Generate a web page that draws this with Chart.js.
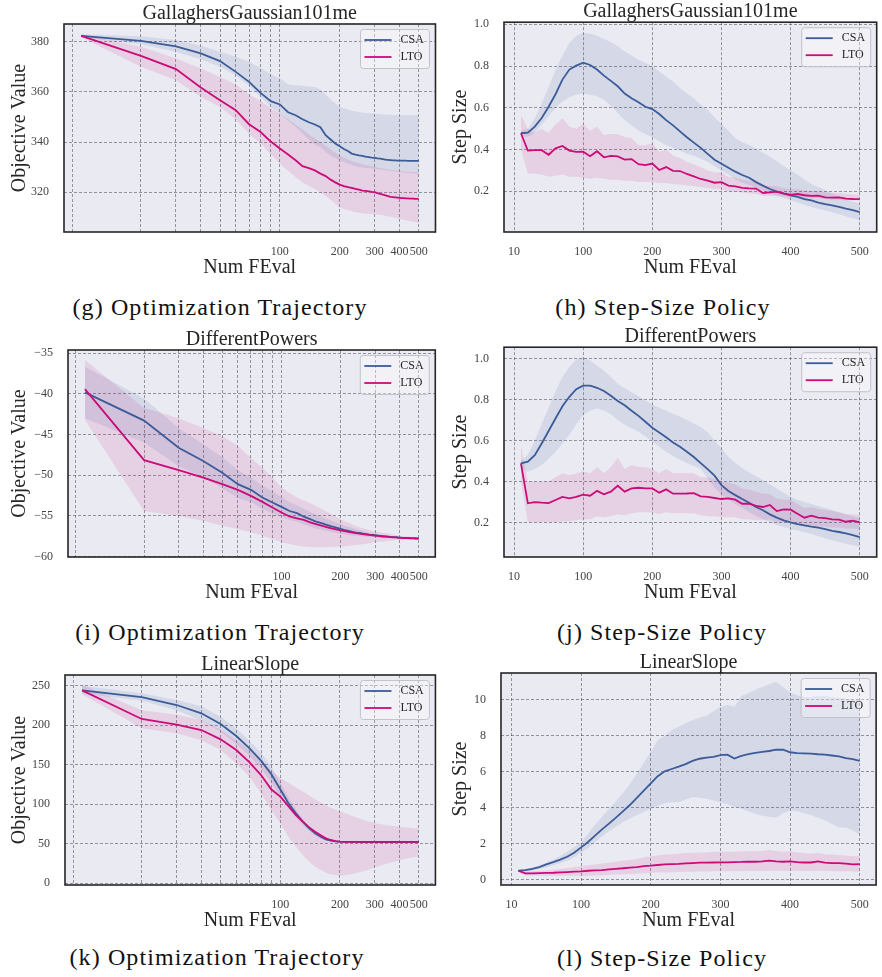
<!DOCTYPE html>
<html>
<head>
<meta charset="utf-8">
<script src="https://cdn.jsdelivr.net/npm/chart.js@4.4.1/dist/chart.umd.min.js"></script>
<style>
  body { margin: 0; background: #fff; }
  #page { position: relative; width: 882px; height: 977px; overflow: hidden; }
  #page canvas { position: absolute; }
  .cap {
    position: absolute;
    font-family: 'Liberation Serif', 'Times New Roman', serif;
    font-size: 24px;
    letter-spacing: 1.1px;
    color: #111;
    white-space: nowrap;
    transform: translate(-50%, -50%);
  }
</style>
</head>
<body>
<div id="page">
  <canvas id="g" width="441" height="280" style="left:0;top:0"></canvas>
  <canvas id="h" width="441" height="280" style="left:441px;top:0"></canvas>
  <canvas id="i" width="441" height="280" style="left:0;top:325px"></canvas>
  <canvas id="j" width="441" height="280" style="left:441px;top:325px"></canvas>
  <canvas id="k" width="441" height="283" style="left:0;top:650px"></canvas>
  <canvas id="l" width="441" height="283" style="left:441px;top:650px"></canvas>

  <div class="cap" style="left:220px;top:307px">(g) Optimization Trajectory</div>
  <div class="cap" style="left:663px;top:307px">(h) Step-Size Policy</div>
  <div class="cap" style="left:220px;top:632px">(i) Optimization Trajectory</div>
  <div class="cap" style="left:662px;top:632px">(j) Step-Size Policy</div>
  <div class="cap" style="left:217px;top:957px">(k) Optimization Trajectory</div>
  <div class="cap" style="left:662px;top:958px">(l) Step-Size Policy</div>
</div>

<script>
// number of function evaluations at which each run was logged
var FEVALS = [10, 20, 30, 40, 50, 60, 70, 80, 90, 100,
              110, 120, 130, 140, 150, 160, 170, 180, 190, 200,
              210, 220, 230, 240, 250, 260, 270, 280, 290, 300,
              310, 320, 330, 340, 350, 360, 370, 380, 390, 400,
              410, 420, 430, 440, 450, 460, 470, 480, 490, 500];

// x gridlines / labels
var LOG_GRID = [9, 20, 30, 40, 50, 60, 70, 80, 90, 100, 200, 300, 400, 500];
var LOG_LABELED = [100, 200, 300, 400, 500];
var LIN_GRID = [0, 100, 200, 300, 400, 500];
var LIN_LABELS = ['10', '100', '200', '300', '400', '500'];

// --- GallaghersGaussian101me: objective value
var gCsaMean = [382.4, 380.4, 378.2, 375.4, 372.3, 368.0, 364.0, 359.6, 356.3, 355.0,
                351.9, 350.7, 349.1, 347.9, 347.0, 345.9, 342.7, 341.0, 339.4, 338.3,
                337.2, 336.4, 335.4, 335.0, 334.7, 334.5, 334.2, 334.0, 333.8, 333.7,
                333.5, 333.4, 333.2, 333.0, 332.9, 332.8, 332.7, 332.7, 332.6, 332.6,
                332.6, 332.6, 332.6, 332.5, 332.5, 332.5, 332.5, 332.5, 332.5, 332.5];
var gCsaHigh = [383.0, 382.2, 380.7, 378.5, 376.0, 374.0, 372.0, 369.5, 367.0, 365.5,
                363.0, 362.7, 362.5, 362.2, 362.0, 361.0, 359.0, 357.0, 355.5, 354.0,
                353.5, 353.0, 352.5, 352.2, 352.0, 351.8, 351.6, 351.5, 351.4, 351.3,
                351.2, 351.1, 351.0, 351.0, 350.9, 350.9, 350.8, 350.8, 350.8, 350.7,
                350.7, 350.7, 350.7, 350.7, 350.7, 350.7, 350.7, 350.7, 350.7, 350.7];
var gCsaLow = [381.8, 379.0, 376.0, 373.0, 370.0, 366.5, 362.5, 358.0, 354.0, 351.3,
               348.5, 346.0, 343.5, 341.0, 339.0, 338.0, 336.0, 334.5, 333.5, 332.7,
               332.0, 331.3, 330.8, 330.3, 330.0, 329.8, 329.6, 329.5, 329.4, 329.3,
               329.1, 329.0, 328.8, 328.7, 328.5, 328.4, 328.3, 328.2, 328.1, 328.0,
               327.9, 327.8, 327.7, 327.6, 327.6, 327.5, 327.5, 327.4, 327.4, 327.4];
var gLtoMean = [382.4, 374.4, 369.1, 361.8, 356.7, 352.7, 347.1, 344.0, 340.2, 337.4,
                335.0, 332.7, 330.4, 329.6, 328.7, 327.4, 326.4, 325.0, 323.9, 323.0,
                322.4, 322.0, 321.7, 321.3, 321.0, 320.6, 320.5, 320.3, 320.1, 320.0,
                319.6, 319.3, 319.0, 318.7, 318.4, 318.1, 318.0, 317.9, 317.8, 317.7,
                317.6, 317.6, 317.5, 317.5, 317.4, 317.4, 317.4, 317.3, 317.3, 317.3];
var gLtoHigh = [383.0, 378.0, 373.3, 369.3, 366.0, 363.0, 359.0, 356.5, 353.5, 351.3,
                349.0, 347.0, 345.0, 343.0, 341.5, 340.0, 338.5, 337.0, 335.8, 334.7,
                333.8, 333.0, 332.4, 331.9, 331.5, 331.1, 330.8, 330.5, 330.2, 330.0,
                329.8, 329.6, 329.4, 329.2, 329.0, 328.8, 328.7, 328.6, 328.5, 328.4,
                328.3, 328.2, 328.2, 328.1, 328.1, 328.0, 328.0, 328.0, 328.0, 328.0];
var gLtoLow = [381.8, 370.0, 364.7, 358.0, 354.0, 349.0, 343.3, 339.5, 335.0, 331.3,
               328.5, 326.0, 324.0, 322.5, 321.3, 320.0, 318.5, 317.0, 315.5, 314.0,
               313.3, 312.8, 312.4, 312.0, 311.8, 311.6, 311.5, 311.4, 311.3, 311.3,
               311.1, 311.0, 310.8, 310.6, 310.4, 310.2, 310.0, 309.8, 309.6, 309.4,
               309.2, 309.0, 308.8, 308.7, 308.5, 308.3, 308.2, 308.1, 308.0, 307.8];
var gTicks = [320, 340, 360, 380];

// --- GallaghersGaussian101me: step size
var hCsaMean = [0.478, 0.481, 0.510, 0.551, 0.605, 0.665, 0.735, 0.783, 0.802, 0.816,
                0.805, 0.783, 0.754, 0.729, 0.703, 0.668, 0.646, 0.627, 0.605, 0.594,
                0.570, 0.541, 0.516, 0.487, 0.459, 0.433, 0.408, 0.379, 0.351, 0.332,
                0.313, 0.294, 0.278, 0.265, 0.244, 0.227, 0.211, 0.198, 0.189, 0.181,
                0.173, 0.163, 0.156, 0.146, 0.138, 0.132, 0.125, 0.117, 0.110, 0.100];
var hCsaHigh = [0.490, 0.500, 0.550, 0.620, 0.700, 0.780, 0.850, 0.910, 0.945, 0.960,
                0.955, 0.945, 0.930, 0.915, 0.895, 0.870, 0.850, 0.830, 0.815, 0.800,
                0.775, 0.750, 0.725, 0.695, 0.670, 0.645, 0.615, 0.590, 0.555, 0.522,
                0.490, 0.455, 0.435, 0.420, 0.405, 0.385, 0.365, 0.345, 0.320, 0.300,
                0.280, 0.255, 0.235, 0.220, 0.205, 0.190, 0.175, 0.160, 0.150, 0.141];
var hCsaLow = [0.467, 0.460, 0.480, 0.520, 0.560, 0.600, 0.630, 0.650, 0.662, 0.668,
               0.663, 0.655, 0.638, 0.610, 0.575, 0.540, 0.515, 0.490, 0.475, 0.459,
               0.440, 0.420, 0.408, 0.395, 0.380, 0.370, 0.356, 0.342, 0.320, 0.300,
               0.280, 0.258, 0.242, 0.230, 0.218, 0.205, 0.190, 0.178, 0.168, 0.157,
               0.146, 0.135, 0.125, 0.116, 0.108, 0.100, 0.090, 0.080, 0.070, 0.062];
var hLtoMean = [0.478, 0.395, 0.397, 0.397, 0.375, 0.406, 0.417, 0.395, 0.389, 0.390,
                0.368, 0.392, 0.363, 0.370, 0.367, 0.352, 0.354, 0.330, 0.325, 0.333,
                0.302, 0.316, 0.298, 0.297, 0.283, 0.271, 0.259, 0.251, 0.241, 0.244,
                0.227, 0.224, 0.216, 0.214, 0.213, 0.192, 0.195, 0.198, 0.190, 0.183,
                0.187, 0.181, 0.178, 0.179, 0.171, 0.170, 0.171, 0.165, 0.163, 0.162];
var hLtoHigh = [0.565, 0.500, 0.480, 0.500, 0.480, 0.520, 0.550, 0.510, 0.500, 0.525,
                0.490, 0.510, 0.470, 0.475, 0.475, 0.460, 0.455, 0.420, 0.420, 0.430,
                0.390, 0.400, 0.370, 0.360, 0.340, 0.330, 0.315, 0.300, 0.290, 0.290,
                0.270, 0.265, 0.255, 0.250, 0.250, 0.225, 0.225, 0.225, 0.215, 0.210,
                0.210, 0.205, 0.200, 0.200, 0.195, 0.193, 0.192, 0.188, 0.185, 0.183];
var hLtoLow = [0.400, 0.285, 0.285, 0.280, 0.270, 0.275, 0.280, 0.270, 0.270, 0.265,
               0.260, 0.265, 0.260, 0.255, 0.255, 0.250, 0.250, 0.245, 0.245, 0.245,
               0.240, 0.240, 0.235, 0.232, 0.228, 0.225, 0.220, 0.215, 0.212, 0.210,
               0.200, 0.198, 0.194, 0.190, 0.188, 0.178, 0.178, 0.180, 0.175, 0.172,
               0.172, 0.168, 0.167, 0.167, 0.162, 0.160, 0.160, 0.157, 0.156, 0.155];
var hTicks = [0.2, 0.4, 0.6, 0.8, 1.0];

// --- DifferentPowers: objective value
var iCsaMean = [-39.84, -43.30, -46.64, -48.27, -49.70, -51.10, -51.80, -52.75, -53.36, -53.90,
                -54.40, -54.66, -55.10, -55.40, -55.70, -55.90, -56.10, -56.30, -56.45, -56.60,
                -56.75, -56.85, -56.95, -57.05, -57.10, -57.18, -57.24, -57.30, -57.34, -57.38,
                -57.42, -57.46, -57.50, -57.52, -57.55, -57.58, -57.60, -57.62, -57.64, -57.66,
                -57.68, -57.69, -57.70, -57.71, -57.72, -57.73, -57.74, -57.75, -57.76, -57.77];
var iCsaHigh = [-36.70, -40.60, -44.20, -46.20, -47.80, -49.40, -50.30, -51.30, -52.00, -52.70,
                -53.30, -53.70, -54.15, -54.50, -54.85, -55.10, -55.35, -55.60, -55.80, -56.00,
                -56.20, -56.35, -56.50, -56.65, -56.75, -56.87, -56.97, -57.06, -57.13, -57.20,
                -57.26, -57.32, -57.38, -57.42, -57.46, -57.50, -57.53, -57.56, -57.58, -57.60,
                -57.62, -57.63, -57.64, -57.65, -57.66, -57.67, -57.68, -57.68, -57.69, -57.70];
var iCsaLow = [-43.00, -46.00, -48.90, -50.30, -51.60, -52.80, -53.30, -54.15, -54.70, -55.10,
               -55.50, -55.70, -56.05, -56.30, -56.55, -56.70, -56.85, -57.00, -57.10, -57.20,
               -57.30, -57.35, -57.40, -57.45, -57.48, -57.52, -57.55, -57.58, -57.60, -57.62,
               -57.64, -57.66, -57.68, -57.70, -57.72, -57.74, -57.75, -57.76, -57.77, -57.78,
               -57.79, -57.80, -57.80, -57.81, -57.81, -57.82, -57.82, -57.83, -57.83, -57.84];
var iLtoMean = [-39.43, -48.15, -49.37, -50.30, -51.10, -51.80, -52.55, -53.28, -53.97, -54.58,
                -55.07, -55.30, -55.50, -55.80, -56.00, -56.20, -56.37, -56.54, -56.66, -56.78,
                -56.88, -56.97, -57.05, -57.12, -57.18, -57.24, -57.29, -57.34, -57.38, -57.42,
                -57.46, -57.50, -57.53, -57.56, -57.59, -57.61, -57.63, -57.65, -57.67, -57.69,
                -57.71, -57.72, -57.73, -57.74, -57.75, -57.76, -57.77, -57.78, -57.79, -57.80];
var iLtoHigh = [-35.85, -41.75, -43.00, -44.20, -45.20, -46.40, -47.90, -49.10, -50.30, -51.50,
                -52.20, -52.75, -53.10, -53.45, -53.80, -54.15, -54.50, -54.80, -55.10, -55.40,
                -55.65, -55.85, -56.05, -56.25, -56.40, -56.52, -56.62, -56.72, -56.82, -56.90,
                -56.97, -57.03, -57.09, -57.15, -57.20, -57.25, -57.30, -57.35, -57.39, -57.43,
                -57.46, -57.49, -57.51, -57.53, -57.55, -57.57, -57.59, -57.61, -57.63, -57.64];
var iLtoLow = [-43.20, -54.40, -55.00, -55.60, -56.20, -56.60, -57.00, -57.43, -57.84, -58.25,
               -58.45, -58.65, -58.75, -58.82, -58.86, -58.86, -58.85, -58.83, -58.80, -58.78,
               -58.73, -58.68, -58.63, -58.58, -58.53, -58.48, -58.42, -58.36, -58.30, -58.25,
               -58.21, -58.18, -58.15, -58.12, -58.09, -58.06, -58.03, -58.00, -57.98, -57.96,
               -57.95, -57.95, -57.94, -57.94, -57.93, -57.93, -57.93, -57.92, -57.92, -57.92];
var iTicks = [-60, -55, -50, -45, -40, -35];

// --- DifferentPowers: step size
var jCsaMean = [0.488, 0.496, 0.528, 0.585, 0.646, 0.707, 0.767, 0.813, 0.850, 0.867,
                0.867, 0.857, 0.841, 0.818, 0.792, 0.772, 0.745, 0.720, 0.691, 0.662,
                0.639, 0.615, 0.590, 0.569, 0.545, 0.519, 0.489, 0.460, 0.428, 0.382,
                0.353, 0.333, 0.314, 0.296, 0.275, 0.259, 0.239, 0.223, 0.210, 0.200,
                0.192, 0.185, 0.179, 0.174, 0.167, 0.159, 0.153, 0.146, 0.138, 0.128];
var jCsaHigh = [0.500, 0.530, 0.600, 0.680, 0.760, 0.840, 0.910, 0.960, 0.995, 1.008,
                0.990, 0.965, 0.940, 0.910, 0.875, 0.855, 0.835, 0.815, 0.795, 0.775,
                0.760, 0.745, 0.730, 0.715, 0.700, 0.682, 0.665, 0.640, 0.600, 0.560,
                0.520, 0.490, 0.465, 0.445, 0.425, 0.405, 0.385, 0.365, 0.345, 0.325,
                0.310, 0.300, 0.290, 0.280, 0.270, 0.260, 0.250, 0.240, 0.230, 0.220];
var jCsaLow = [0.463, 0.447, 0.460, 0.480, 0.510, 0.545, 0.585, 0.626, 0.680, 0.724,
               0.745, 0.756, 0.745, 0.728, 0.700, 0.677, 0.660, 0.642, 0.620, 0.593,
               0.570, 0.545, 0.524, 0.505, 0.490, 0.475, 0.460, 0.415, 0.370, 0.335,
               0.310, 0.290, 0.270, 0.250, 0.232, 0.215, 0.200, 0.187, 0.177, 0.168,
               0.160, 0.152, 0.143, 0.132, 0.122, 0.113, 0.104, 0.096, 0.088, 0.081];
var jLtoMean = [0.488, 0.293, 0.299, 0.296, 0.294, 0.309, 0.324, 0.317, 0.324, 0.335,
                0.330, 0.354, 0.337, 0.350, 0.379, 0.350, 0.366, 0.369, 0.366, 0.366,
                0.345, 0.361, 0.340, 0.340, 0.341, 0.343, 0.327, 0.324, 0.319, 0.314,
                0.317, 0.311, 0.291, 0.291, 0.281, 0.275, 0.285, 0.255, 0.263, 0.262,
                0.242, 0.223, 0.233, 0.223, 0.221, 0.215, 0.213, 0.203, 0.208, 0.200];
var jLtoHigh = [0.574, 0.400, 0.400, 0.400, 0.400, 0.420, 0.440, 0.430, 0.440, 0.450,
                0.440, 0.470, 0.440, 0.470, 0.515, 0.460, 0.480, 0.470, 0.470, 0.460,
                0.440, 0.460, 0.440, 0.440, 0.440, 0.440, 0.420, 0.420, 0.410, 0.400,
                0.395, 0.385, 0.365, 0.360, 0.350, 0.340, 0.340, 0.315, 0.310, 0.310,
                0.290, 0.270, 0.275, 0.265, 0.260, 0.255, 0.250, 0.240, 0.240, 0.235];
var jLtoLow = [0.400, 0.200, 0.200, 0.200, 0.200, 0.200, 0.205, 0.205, 0.210, 0.215,
               0.215, 0.230, 0.225, 0.230, 0.240, 0.235, 0.245, 0.250, 0.250, 0.250,
               0.240, 0.250, 0.245, 0.245, 0.245, 0.245, 0.235, 0.230, 0.230, 0.225,
               0.225, 0.225, 0.215, 0.215, 0.210, 0.210, 0.215, 0.200, 0.200, 0.200,
               0.190, 0.180, 0.185, 0.180, 0.180, 0.175, 0.175, 0.170, 0.170, 0.165];
var jTicks = [0.2, 0.4, 0.6, 0.8, 1.0];

// --- LinearSlope: objective value
var kCsaMean = [244.0, 235.6, 225.5, 215.0, 201.4, 186.2, 170.6, 155.0, 138.0, 118.7,
                101.0, 88.3, 77.7, 69.3, 63.0, 58.7, 55.3, 53.6, 52.8, 52.4,
                52.2, 52.1, 52.0, 52.0, 51.9, 51.9, 51.9, 51.9, 51.9, 51.9,
                51.9, 51.9, 51.9, 51.9, 51.9, 51.9, 51.9, 51.9, 51.9, 51.9,
                51.9, 51.9, 51.9, 51.9, 51.9, 51.9, 51.9, 51.9, 51.9, 51.9];
var kCsaHigh = [250.0, 240.3, 231.8, 224.0, 210.7, 196.0, 180.0, 165.0, 148.0, 128.0,
                108.0, 93.0, 81.0, 72.0, 65.0, 60.0, 56.5, 54.5, 53.5, 53.0,
                52.6, 52.4, 52.3, 52.2, 52.2, 52.1, 52.1, 52.1, 52.1, 52.1,
                52.1, 52.1, 52.1, 52.1, 52.1, 52.1, 52.1, 52.1, 52.1, 52.1,
                52.1, 52.1, 52.1, 52.1, 52.1, 52.1, 52.1, 52.1, 52.1, 52.1];
var kCsaLow = [240.0, 231.0, 219.0, 206.0, 192.0, 176.0, 161.0, 145.0, 128.0, 109.0,
               94.0, 83.0, 73.0, 66.0, 60.0, 56.0, 53.5, 52.5, 52.0, 51.8,
               51.7, 51.7, 51.7, 51.7, 51.7, 51.7, 51.7, 51.7, 51.7, 51.7,
               51.7, 51.7, 51.7, 51.7, 51.7, 51.7, 51.7, 51.7, 51.7, 51.7,
               51.7, 51.7, 51.7, 51.7, 51.7, 51.7, 51.7, 51.7, 51.7, 51.7];
var kLtoMean = [244.0, 207.8, 200.6, 193.8, 182.0, 168.5, 152.9, 136.8, 118.7, 109.4,
                97.5, 86.1, 77.7, 70.5, 65.0, 60.4, 56.6, 54.5, 53.2, 52.4,
                52.1, 52.0, 52.0, 52.0, 52.0, 52.0, 52.0, 52.0, 52.0, 52.0,
                52.0, 52.0, 52.0, 52.0, 52.0, 52.0, 52.0, 52.0, 52.0, 52.0,
                52.0, 52.0, 52.0, 52.0, 52.0, 52.0, 52.0, 52.0, 52.0, 52.0];
var kLtoHigh = [251.0, 219.0, 213.0, 206.5, 194.0, 181.0, 168.5, 156.0, 143.0, 133.0,
                127.0, 121.0, 116.0, 111.0, 106.0, 102.0, 98.5, 95.5, 93.0, 91.0,
                89.0, 87.0, 85.0, 83.5, 82.0, 80.5, 79.0, 78.0, 77.0, 76.0,
                75.2, 74.5, 74.0, 73.5, 73.0, 72.6, 72.2, 71.8, 71.5, 71.2,
                70.9, 70.6, 70.4, 70.2, 70.0, 69.8, 69.6, 69.5, 69.4, 69.3];
var kLtoLow = [239.0, 196.0, 189.6, 181.0, 168.5, 151.6, 134.7, 113.6, 92.5, 75.6,
               58.7, 46.0, 35.5, 27.0, 20.7, 16.5, 13.1, 11.0, 9.7, 9.3,
               9.8, 10.5, 11.5, 12.5, 13.5, 14.5, 15.5, 17.0, 18.5, 20.0,
               21.0, 22.0, 23.0, 24.0, 25.0, 25.8, 26.6, 27.4, 28.2, 29.0,
               29.6, 30.2, 30.8, 31.3, 31.8, 32.3, 32.7, 33.0, 33.3, 33.5];
var kTicks = [0, 50, 100, 150, 200, 250];

// --- LinearSlope: step size
var lCsaMean = [0.50, 0.53, 0.60, 0.70, 0.85, 0.98, 1.12, 1.28, 1.50, 1.80,
                2.10, 2.45, 2.80, 3.12, 3.45, 3.80, 4.15, 4.55, 4.95, 5.35,
                5.75, 6.02, 6.15, 6.28, 6.42, 6.60, 6.72, 6.78, 6.82, 6.92,
                6.95, 6.73, 6.88, 6.98, 7.05, 7.10, 7.15, 7.22, 7.22, 7.08,
                7.03, 7.02, 7.00, 6.97, 6.95, 6.90, 6.85, 6.75, 6.70, 6.60];
var lCsaHigh = [0.55, 0.60, 0.68, 0.80, 0.95, 1.12, 1.32, 1.55, 1.80, 2.10,
                2.55, 3.05, 3.50, 3.95, 4.35, 4.80, 5.30, 5.90, 6.50, 7.10,
                7.75, 8.00, 8.30, 8.50, 8.70, 8.85, 9.00, 9.10, 9.35, 9.60,
                9.70, 9.60, 10.20, 10.35, 10.55, 10.70, 10.85, 11.00, 10.70, 10.40,
                10.25, 10.15, 10.15, 10.20, 10.20, 10.15, 10.10, 10.05, 10.00, 10.00];
var lCsaLow = [0.45, 0.47, 0.52, 0.60, 0.70, 0.80, 0.92, 1.05, 1.25, 1.50,
               1.75, 2.10, 2.40, 2.70, 2.95, 3.20, 3.40, 3.60, 3.78, 3.93,
               4.10, 4.25, 4.30, 4.30, 4.45, 4.58, 4.55, 4.50, 4.40, 4.30,
               4.20, 4.05, 3.95, 3.80, 3.65, 3.55, 3.50, 3.45, 3.70, 3.85,
               3.80, 3.70, 3.60, 3.45, 3.30, 3.10, 2.90, 2.90, 2.75, 2.50];
var lLtoMean = [0.50, 0.36, 0.36, 0.37, 0.38, 0.39, 0.41, 0.43, 0.45, 0.47,
                0.50, 0.52, 0.54, 0.58, 0.61, 0.64, 0.68, 0.70, 0.76, 0.78,
                0.82, 0.85, 0.87, 0.88, 0.91, 0.93, 0.95, 0.95, 0.96, 0.97,
                0.97, 0.98, 0.99, 1.01, 1.00, 1.02, 1.06, 1.02, 1.00, 1.02,
                0.98, 0.96, 0.96, 1.02, 0.95, 0.93, 0.92, 0.90, 0.86, 0.87];
var lLtoHigh = [0.55, 0.45, 0.47, 0.50, 0.52, 0.55, 0.60, 0.65, 0.70, 0.75,
                0.80, 0.85, 0.90, 0.95, 1.00, 1.05, 1.10, 1.15, 1.25, 1.30,
                1.35, 1.40, 1.42, 1.45, 1.48, 1.50, 1.52, 1.52, 1.55, 1.55,
                1.55, 1.56, 1.57, 1.60, 1.58, 1.60, 1.65, 1.60, 1.55, 1.58,
                1.52, 1.48, 1.45, 1.50, 1.42, 1.40, 1.38, 1.35, 1.32, 1.30];
var lLtoLow = [0.45, 0.25, 0.24, 0.23, 0.22, 0.22, 0.22, 0.22, 0.22, 0.22,
               0.23, 0.24, 0.25, 0.27, 0.29, 0.30, 0.32, 0.34, 0.36, 0.38,
               0.40, 0.41, 0.42, 0.43, 0.44, 0.45, 0.46, 0.46, 0.47, 0.47,
               0.48, 0.48, 0.48, 0.49, 0.49, 0.49, 0.50, 0.50, 0.50, 0.50,
               0.50, 0.49, 0.49, 0.50, 0.49, 0.48, 0.48, 0.47, 0.46, 0.45];
var lTicks = [0, 2, 4, 6, 8, 10];

var SERIF = "'Liberation Serif', 'Times New Roman', serif";
var CSA_COLOR = '#3b5b99';
var LTO_COLOR = '#cc0a78';
var CSA_BAND = 'rgba(59, 91, 153, 0.12)';
var LTO_BAND = 'rgba(204, 10, 120, 0.11)';
var GRID_COLOR = 'rgba(40, 40, 50, 0.45)';

function pts(ys) {
    return FEVALS.map(function (x, i) { return { x: x, y: ys[i] }; });
}

// shaded area between two bounds: the upper curve fills down to the one before it
function band(low, high, color, order) {
    return [
        { data: pts(low), borderWidth: 0, borderColor: 'transparent', pointRadius: 0, fill: false, order: order },
        { data: pts(high), borderWidth: 0, borderColor: 'transparent', pointRadius: 0, fill: '-1', backgroundColor: color, order: order }
    ];
}

function meanLine(label, ys, color, order) {
    return { label: label, data: pts(ys), borderColor: color, borderWidth: 1.8, pointRadius: 0, fill: false, order: order };
}

// axes background and the black frame around the plot
var axesFrame = {
    id: 'axesFrame',
    beforeDraw: function (chart) {
        var a = chart.chartArea, ctx = chart.ctx;
        ctx.save();
        ctx.fillStyle = '#eaeaf2';
        ctx.fillRect(a.left, a.top, a.right - a.left, a.bottom - a.top);
        ctx.restore();
    },
    afterDraw: function (chart) {
        var a = chart.chartArea, ctx = chart.ctx;
        ctx.save();
        ctx.strokeStyle = '#262626';
        ctx.lineWidth = 1.6;
        ctx.strokeRect(a.left, a.top, a.right - a.left, a.bottom - a.top);
        ctx.restore();
    }
};

// legend box in the upper right corner of the plot
var cornerLegend = {
    id: 'cornerLegend',
    afterDatasetsDraw: function (chart) {
        var a = chart.chartArea, ctx = chart.ctx;
        var items = chart.data.datasets.filter(function (d) { return d.label; });
        var w = 69, h = 39;
        var x0 = a.right - 6 - w, y0 = a.top + 5.5;
        ctx.save();
        ctx.beginPath();
        ctx.roundRect(x0, y0, w, h, 3);
        ctx.fillStyle = 'rgba(255, 255, 255, 0.35)';
        ctx.fill();
        ctx.strokeStyle = 'rgba(190, 190, 200, 0.9)';
        ctx.lineWidth = 1;
        ctx.stroke();
        ctx.font = '12px ' + SERIF;
        ctx.textBaseline = 'middle';
        items.forEach(function (d, n) {
            var y = y0 + 10.5 + n * 17;
            ctx.beginPath();
            ctx.moveTo(x0 + 4, y);
            ctx.lineTo(x0 + 31, y);
            ctx.strokeStyle = d.borderColor;
            ctx.lineWidth = 1.8;
            ctx.stroke();
            ctx.fillStyle = '#262626';
            ctx.fillText(d.label, x0 + 40, y);
        });
        ctx.restore();
    }
};

function tickFont() { return { family: SERIF, size: 12 }; }
function axisTitleFont() { return { family: SERIF, size: 20, lineHeight: 1.2 }; }

function xLogScale() {
    return {
        type: 'logarithmic',
        min: 8.2,
        max: 607,
        afterBuildTicks: function (s) { s.ticks = LOG_GRID.map(function (v) { return { value: v }; }); },
        afterFit: function (s) { s.height = 48; },
        ticks: {
            autoSkip: false, maxRotation: 0, minRotation: 0, padding: 13,
            color: '#444', font: tickFont(),
            callback: function (v) { return LOG_LABELED.indexOf(v) >= 0 ? String(v) : ''; }
        },
        grid: { color: GRID_COLOR, drawTicks: false, lineWidth: 1 },
        border: { display: false, dash: [3, 2] },
        title: { display: true, text: 'Num FEval', color: '#262626', font: axisTitleFont(), padding: { top: 0, bottom: 0 } }
    };
}

function xLinScale(min, max) {
    return {
        type: 'linear',
        min: min,
        max: max,
        afterBuildTicks: function (s) { s.ticks = LIN_GRID.map(function (v) { return { value: v }; }); },
        afterFit: function (s) { s.height = 48; },
        ticks: {
            autoSkip: false, maxRotation: 0, minRotation: 0, padding: 13,
            color: '#444', font: tickFont(),
            callback: function (v, idx) { return LIN_LABELS[idx]; }
        },
        grid: { color: GRID_COLOR, drawTicks: false, lineWidth: 1 },
        border: { display: false, dash: [3, 2] },
        title: { display: true, text: 'Num FEval', color: '#262626', font: axisTitleFont(), padding: { top: 0, bottom: 0 } }
    };
}

function yScale(min, max, ticks, fmt, width, label) {
    return {
        type: 'linear',
        min: min,
        max: max,
        afterBuildTicks: function (s) { s.ticks = ticks.map(function (v) { return { value: v }; }); },
        afterFit: function (s) { s.width = width; },
        ticks: { padding: 15, color: '#444', font: tickFont(), callback: fmt },
        grid: { color: GRID_COLOR, drawTicks: false, lineWidth: 1 },
        border: { display: false, dash: [3, 2] },
        title: { display: true, text: label, color: '#262626', font: axisTitleFont(), padding: { top: 7.5, bottom: 0 } }
    };
}

function plain(v) { return String(v); }
function oneDecimal(v) { return v.toFixed(1); }
function withMinus(v) { return String(v).replace('-', '\u2212'); }

function makePanel(id, title, series, xScale, yOpts, pad) {
    var datasets = []
        .concat(band(series[2], series[1], CSA_BAND, 4))
        .concat(band(series[5], series[4], LTO_BAND, 3));
    datasets.push(meanLine('CSA', series[0], CSA_COLOR, 2));
    datasets.push(meanLine('LTO', series[3], LTO_COLOR, 1));

    return new Chart(document.getElementById(id).getContext('2d'), {
        type: 'line',
        data: { datasets: datasets },
        options: {
            responsive: false,
            animation: false,
            devicePixelRatio: 1,
            events: [],
            layout: { padding: { top: pad.top, right: pad.right, left: 0, bottom: 0 } },
            scales: { x: xScale, y: yOpts },
            plugins: {
                legend: { display: false },
                tooltip: { enabled: false },
                title: {
                    display: true, text: title, fullSize: false, padding: 0, color: '#262626',
                    font: { family: SERIF, size: 20, weight: 'normal', lineHeight: 1 }
                }
            }
        },
        plugins: [axesFrame, cornerLegend]
    });
}

makePanel('g', 'GallaghersGaussian101me',
    [gCsaMean, gCsaHigh, gCsaLow, gLtoMean, gLtoHigh, gLtoLow],
    xLogScale(), yScale(304.1, 387.1, gTicks, plain, 64, 'Objective Value'), { top: 4, right: 2 });

makePanel('h', 'GallaghersGaussian101me',
    [hCsaMean, hCsaHigh, hCsaLow, hLtoMean, hLtoHigh, hLtoLow],
    xLinScale(-14.5, 524.5), yScale(0.005, 1.01, hTicks, oneDecimal, 63, 'Step Size'), { top: 2, right: 3 });

makePanel('i', 'DifferentPowers',
    [iCsaMean, iCsaHigh, iCsaLow, iLtoMean, iLtoHigh, iLtoLow],
    xLogScale(), yScale(-60.05, -34.63, iTicks, withMinus, 68, 'Objective Value'), { top: 5, right: 2 });

makePanel('j', 'DifferentPowers',
    [jCsaMean, jCsaHigh, jCsaLow, jLtoMean, jLtoHigh, jLtoLow],
    xLinScale(-14.5, 524.5), yScale(0.031, 1.055, jTicks, oneDecimal, 63, 'Step Size'), { top: 2, right: 3 });

makePanel('k', 'LinearSlope',
    [kCsaMean, kCsaHigh, kCsaLow, kLtoMean, kLtoHigh, kLtoLow],
    xLogScale(), yScale(-2.5, 263.5, kTicks, plain, 65, 'Objective Value'), { top: 5, right: 2 });

makePanel('l', 'LinearSlope',
    [lCsaMean, lCsaHigh, lCsaLow, lLtoMean, lLtoHigh, lLtoLow],
    xLinScale(-15, 523.5), yScale(-0.29, 11.48, lTicks, plain, 60, 'Step Size'), { top: 3, right: 3 });
</script>
</body>
</html>
